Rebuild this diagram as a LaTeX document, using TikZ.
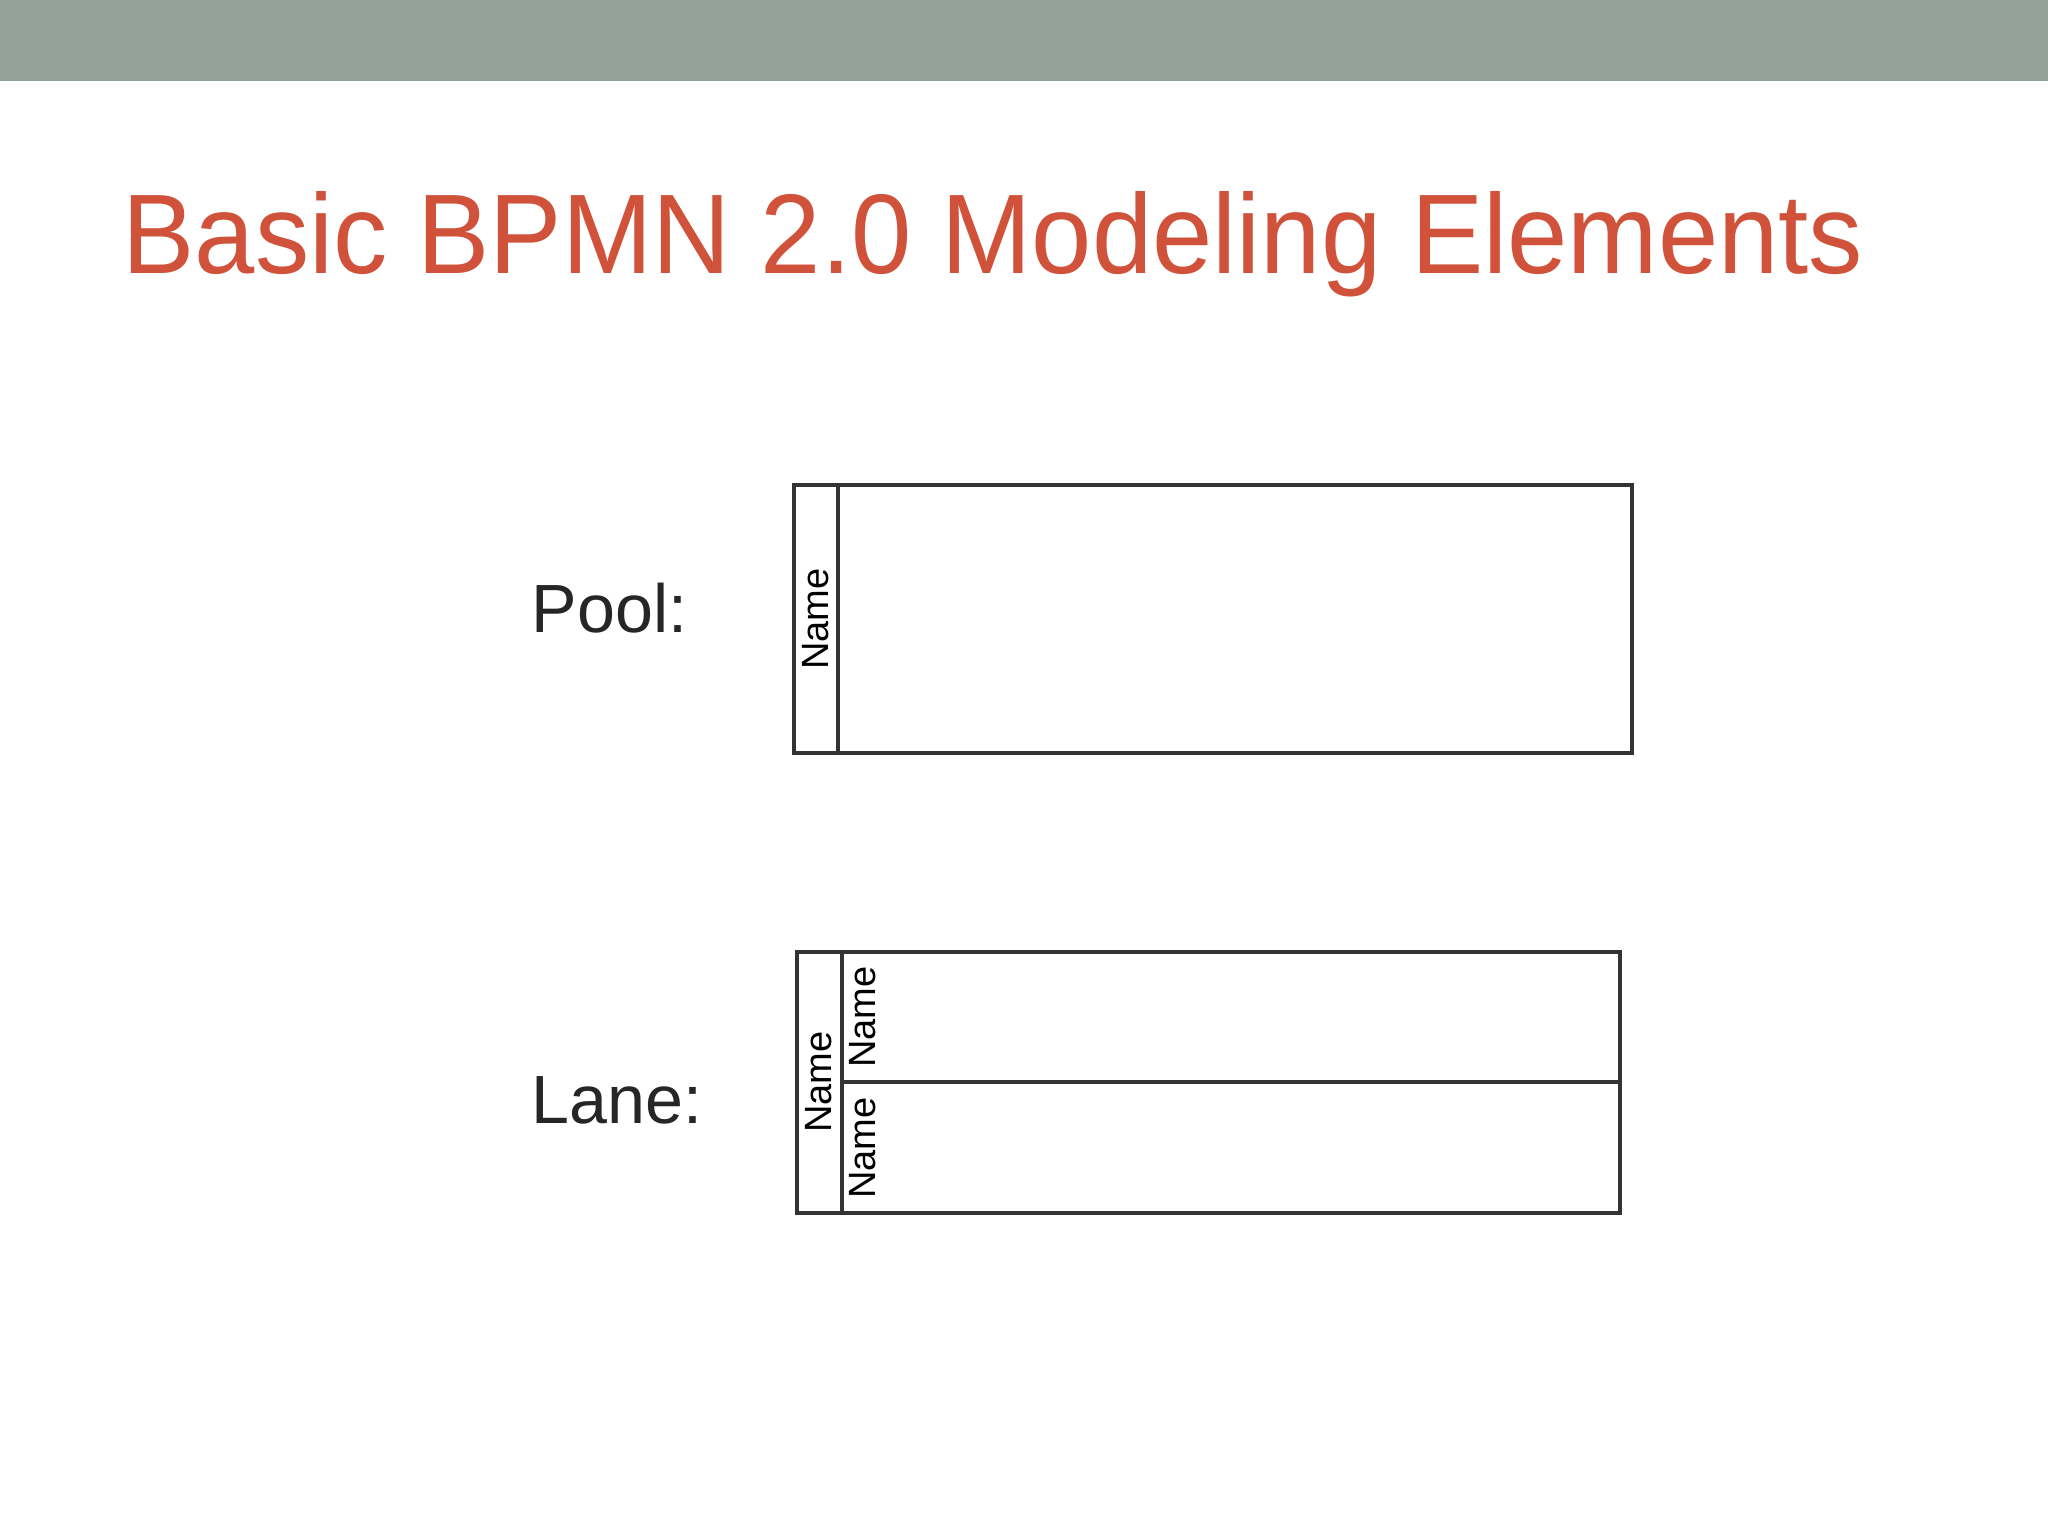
\documentclass[tikz,border=0pt]{standalone}
\usepackage{fontspec}
\setmainfont{Liberation Sans}
\definecolor{barcol}{HTML}{93A29A}
\definecolor{titlecol}{HTML}{D1523A}
\definecolor{labelcol}{HTML}{262626}
\definecolor{linecol}{HTML}{333333}
\tikzset{
  frame/.style={draw=linecol, line width=0.9pt},
  divider/.style={draw=linecol, line width=0.9pt},
  vname/.style={rotate=90, inner sep=0pt, font=\fontsize{10.8}{12}\selectfont, text=black},
  biglabel/.style={anchor=base west, inner sep=0pt, font=\fontsize{19.4}{22}\selectfont, text=labelcol}
}
\begin{document}
\begin{tikzpicture}[x=0.01cm, y=-0.01cm]
\useasboundingbox (0,0) rectangle (2048,1536);
\fill[white] (0,0) rectangle (2048,1536);
\fill[barcol] (0,0) rectangle (2048,81);
\node[anchor=base west, inner sep=0pt, text=titlecol, font=\fontsize{32.2}{36}\selectfont] (title) at (122,273) {\scalebox{0.957}[1]{Basic BPMN 2.0 Modeling Elements}};
% Pool
\node[biglabel] (poollabel) at (531,632) {Pool:};
\draw[frame] (794,485) rectangle (1632,753);
\coordinate (pooldivtop) at (838,485);
\coordinate (pooldivbot) at (838,753);
\draw[divider] (pooldivtop) -- (pooldivbot);
\node[vname] (poolname) at (816,619) {Name};
% Lane
\node[biglabel] (lanelabel) at (531,1123) {Lane:};
\draw[frame] (797,952) rectangle (1620,1213);
\coordinate (lanedivtop) at (842,952);
\coordinate (lanedivbot) at (842,1213);
\draw[divider] (lanedivtop) -- (lanedivbot);
\coordinate (lanemidl) at (842,1082);
\coordinate (lanemidr) at (1620,1082);
\draw[divider] (lanemidl) -- (lanemidr);
\node[vname] (lanepoolname) at (819,1082) {Name};
\node[vname] (lane1name) at (863,1017) {Name};
\node[vname] (lane2name) at (863,1148) {Name};
\end{tikzpicture}
\end{document}
